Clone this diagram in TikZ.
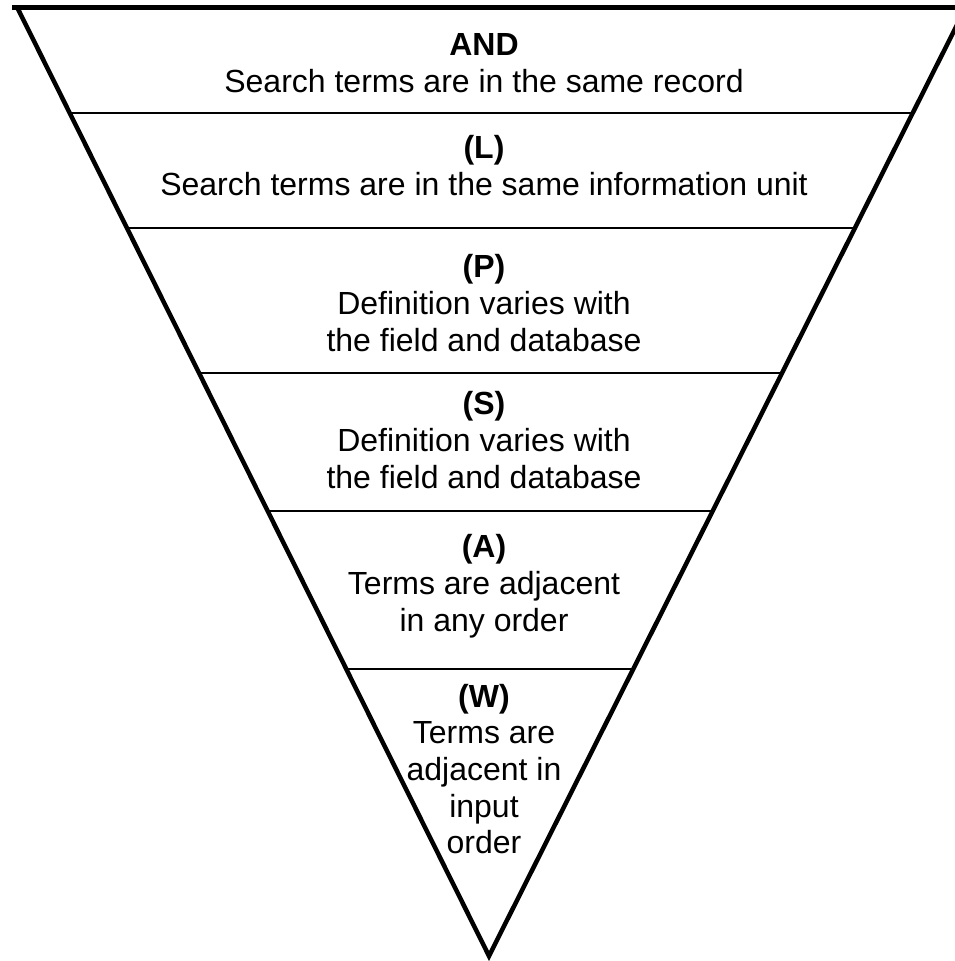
\documentclass[tikz,border=0pt]{standalone}
\usepackage{fontspec}
\setmainfont{Liberation Sans}
\usetikzlibrary{calc}
\begin{document}
\begin{tikzpicture}[x=1pt,y=-1pt,
  lbl/.style={anchor=base,inner sep=0pt,font=\fontsize{32}{37}\selectfont},
  hdr/.style={lbl,font=\fontsize{32}{37}\selectfont\bfseries},
  side/.style={line width=4.5pt},
  divider/.style={line width=2.2pt}]
\useasboundingbox (0,0) rectangle (955,961);
\coordinate (TL) at (17,7);
\coordinate (TR) at (966,7);
\coordinate (AP) at (489,956);
\draw[line width=5pt] (12,7) -- (975,7);
\draw[side,line join=miter] (TL) -- (AP) -- (TR);
% dividers
\foreach \yy [count=\i] in {113,228,373,511,669}{
  \pgfmathsetmacro{\t}{(\yy-7)/949}
  \coordinate (dl\i) at ($(TL)!\t!(AP)$);
  \coordinate (dr\i) at ($(TR)!\t!(AP)$);
  \draw[divider] (dl\i) -- (dr\i);
}
% texts
\node[hdr] (and) at (484,55) {AND};
\node[lbl] (and2) at (484,92.5) {Search terms are in the same record};
\node[hdr] (l) at (484,158) {(L)};
\node[lbl] (l2) at (484,195) {Search terms are in the same information unit};
\node[hdr] (p) at (484,277) {(P)};
\node[lbl] (p2) at (484,314) {Definition varies with};
\node[lbl] (p3) at (484,351) {the field and database};
\node[hdr] (s) at (484,414) {(S)};
\node[lbl] (s2) at (484,451) {Definition varies with};
\node[lbl] (s3) at (484,488) {the field and database};
\node[hdr] (a) at (484,557) {(A)};
\node[lbl] (a2) at (484,594) {Terms are adjacent};
\node[lbl] (a3) at (484,631) {in any order};
\node[hdr] (w) at (484,707) {(W)};
\node[lbl] (w2) at (484,743) {Terms are};
\node[lbl] (w3) at (484,780) {adjacent in};
\node[lbl] (w4) at (484,817) {input};
\node[lbl] (w5) at (484,853) {order};
\end{tikzpicture}
\end{document}
